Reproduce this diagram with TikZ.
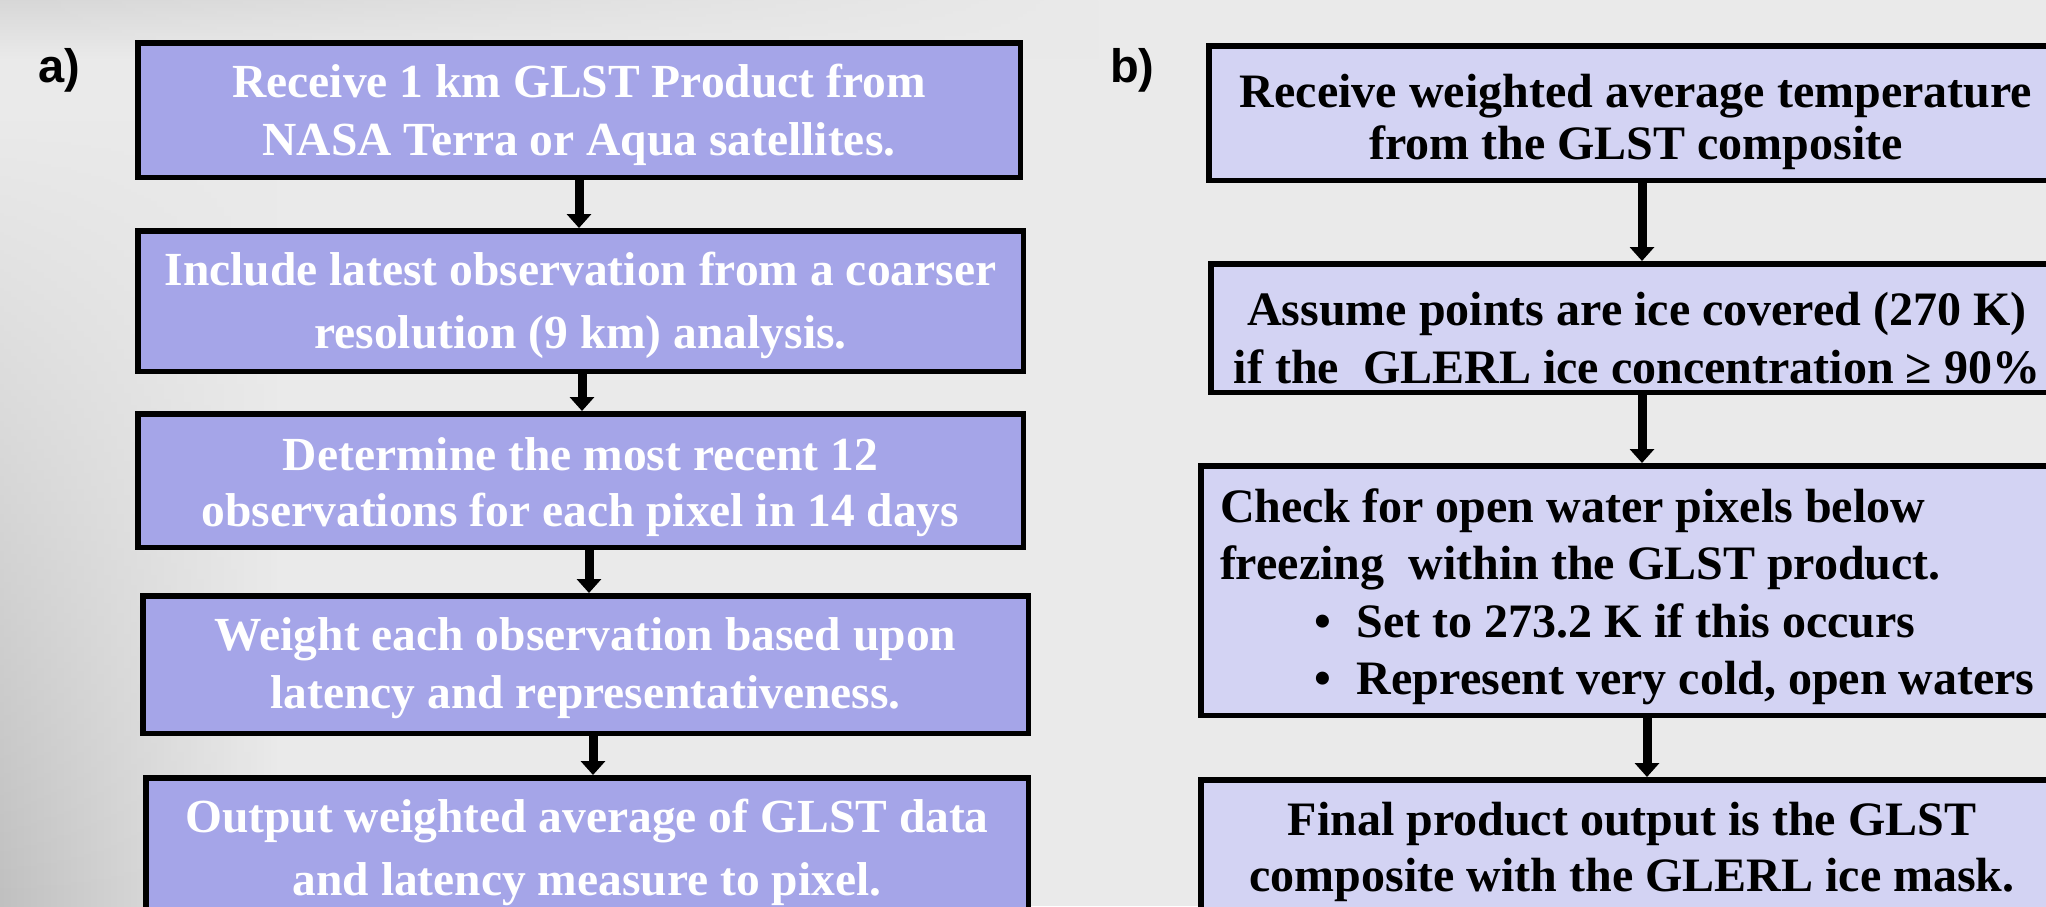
\documentclass[tikz,border=0pt]{standalone}
\usepackage{fontspec}
\setmainfont{Liberation Serif}
\newfontfamily\labelfont{Liberation Sans}
\usetikzlibrary{arrows.meta,fadings}

\definecolor{bgbase}{HTML}{EAEAEA}
\definecolor{bgshade}{HTML}{C0C0C0}
\definecolor{flowA}{HTML}{A5A5E8}
\definecolor{flowB}{HTML}{D3D3F3}

% centred lines in a top-aligned paragraph box: [width]{line spacing}{text}
\newcommand\flowtext[3][880pt]{\parbox[t]{#1}{\centering\baselineskip=#2\relax\lineskiplimit=-100pt\relax #3}}

\tikzset{
  stepbox/.style={draw=black, line width=5.5pt, inner sep=0pt, text height=33pt},
  boxA/.style={stepbox, fill=flowA, text=white, font=\bfseries\fontsize{47.5}{58}\selectfont},
  boxB/.style={stepbox, fill=flowB, text=black, font=\bfseries\fontsize{48}{58}\selectfont},
  flow/.style={draw=black, line width=9pt, -{Triangle[width=24pt,length=14pt]}},
  panel/.style={font=\labelfont\bfseries\fontsize{47}{56}\selectfont, anchor=base west, inner sep=0pt, text=black}
}

\begin{document}
\begin{tikzpicture}[x=1pt,y=-1pt]
\useasboundingbox (0,0) rectangle (2046,906);
\clip (0,0) rectangle (2046,906);

% soft grey backdrop
\fill[bgbase] (0,0) rectangle (2046,906);
\shade[left color=bgshade, right color=bgbase, path fading=north] (0,120) rectangle (280,906);
\shade[top color=bgbase!92!black, bottom color=bgbase, path fading=east] (0,0) rectangle (1100,60);

% panel labels
\node[panel] (la) at (38,82) {a)};
\node[panel] (lb) at (1110,82) {b)};

% panel a
\node[boxA, minimum width=882.5pt, minimum height=134.5pt, text depth=59pt] (a1) at (579,110)
  {\flowtext{58pt}{Receive 1 km GLST Product from\\NASA Terra or Aqua satellites.}};
\node[boxA, minimum width=885.5pt, minimum height=140.5pt, text depth=65pt] (a2) at (580.5,301)
  {\flowtext{63pt}{Include latest observation from a coarser\\resolution (9 km) analysis.}};
\node[boxA, minimum width=885.5pt, minimum height=133.5pt, text depth=54pt] (a3) at (580.5,480.5)
  {\flowtext{56pt}{Determine the most recent 12\\observations for each pixel in 14 days}};
\node[boxA, minimum width=885.5pt, minimum height=137.5pt, text depth=62pt] (a4) at (585.5,664.5)
  {\flowtext{58pt}{Weight each observation based upon\\latency and representativeness.}};
\node[boxA, minimum width=882.5pt, minimum height=154.5pt, text depth=79pt] (a5) at (587,855)
  {\flowtext{63pt}{Output weighted average of GLST data\\and latency measure to pixel.}};

% panel b
\node[boxB, minimum width=854.5pt, minimum height=134.5pt, text depth=45pt] (b1) at (1636,113)
  {\flowtext[840pt]{52pt}{Receive weighted average temperature\\from the GLST composite}};
\node[boxB, minimum width=852.5pt, minimum height=128.5pt, text depth=39pt] (b2) at (1637,328)
  {\flowtext[840pt]{58pt}{Assume points are ice covered (270 K)\\if the\ \ GLERL ice concentration ≥ 90\%}};
\node[boxB, minimum width=862.5pt, minimum height=249.5pt, text depth=170pt] (b3) at (1632,590.5)
  {\parbox[t]{824pt}{\raggedright\baselineskip=57.5pt\relax\lineskiplimit=-100pt\relax
   Check for open water pixels below\\
   freezing\ \ within the GLST product.\\
   \hspace*{94.6pt}•\hspace{25.6pt}Set to 273.2 K if this occurs\\
   \hspace*{94.6pt}•\hspace{25.6pt}Represent very cold, open waters}};
\node[boxB, minimum width=862.5pt, minimum height=152.5pt, text depth=75pt] (b4) at (1632,856)
  {\flowtext[840pt]{56pt}{Final product output is the GLST\\composite with the GLERL ice mask.}};

% connectors
\draw[flow] (a1.south) -- (a1.south |- a2.north);
\draw[flow] ([xshift=1.5pt]a2.south) -- ([xshift=1.5pt]a2.south |- a3.north);
\draw[flow] ([xshift=8.5pt]a3.south) -- ([xshift=8.5pt]a3.south |- a4.north);
\draw[flow] ([xshift=7.5pt]a4.south) -- ([xshift=7.5pt]a4.south |- a5.north);
\draw[flow] ([xshift=6pt]b1.south) -- ([xshift=6pt]b1.south |- b2.north);
\draw[flow] ([xshift=5pt]b2.south) -- ([xshift=5pt]b2.south |- b3.north);
\draw[flow] ([xshift=15pt]b3.south) -- ([xshift=15pt]b3.south |- b4.north);
\end{tikzpicture}
\end{document}
